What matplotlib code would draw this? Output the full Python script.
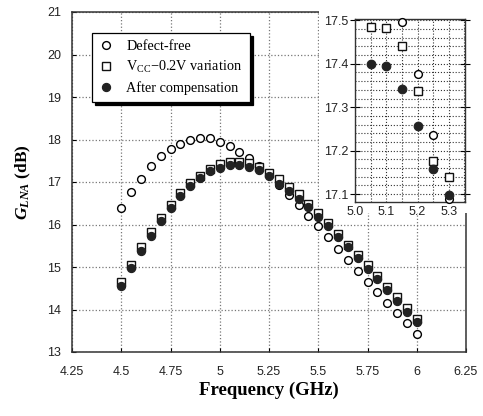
import matplotlib
matplotlib.use('Agg')
import matplotlib.pyplot as plt
from matplotlib.patches import Rectangle
from matplotlib.ticker import MultipleLocator

plt.rcParams['font.family'] = 'Liberation Sans'
plt.rcParams['mathtext.fontset'] = 'custom'
plt.rcParams['mathtext.rm'] = 'Liberation Serif'
plt.rcParams['mathtext.it'] = 'Liberation Serif:italic'
plt.rcParams['mathtext.bf'] = 'Liberation Serif:bold'
plt.rcParams['mathtext.bfit'] = 'Liberation Serif:italic:bold'

# LNA gain vs frequency
freq = [4.50, 4.55, 4.60, 4.65, 4.70, 4.75, 4.80, 4.85, 4.90, 4.95, 5.00,
        5.05, 5.10, 5.15, 5.20, 5.25, 5.30, 5.35, 5.40, 5.45, 5.50, 5.55,
        5.60, 5.65, 5.70, 5.75, 5.80, 5.85, 5.90, 5.95, 6.00]
defect_free = [16.40, 16.76, 17.07, 17.37, 17.60, 17.77, 17.90, 18.00, 18.04, 18.04, 17.94,
               17.84, 17.71, 17.57, 17.38, 17.17, 16.94, 16.69, 16.47, 16.20, 15.96, 15.70,
               15.42, 15.16, 14.91, 14.65, 14.42, 14.16, 13.91, 13.68, 13.42]
vcc_var = [14.64, 15.05, 15.46, 15.82, 16.15, 16.46, 16.74, 16.98, 17.15, 17.31, 17.43,
           17.48, 17.48, 17.45, 17.36, 17.22, 17.08, 16.89, 16.71, 16.48, 16.26, 16.03,
           15.78, 15.52, 15.29, 15.05, 14.80, 14.54, 14.29, 14.04, 13.78]
compensated = [14.55, 14.98, 15.38, 15.73, 16.08, 16.40, 16.67, 16.91, 17.09, 17.25, 17.34,
               17.39, 17.39, 17.36, 17.28, 17.14, 16.96, 16.79, 16.61, 16.41, 16.18, 15.96,
               15.71, 15.48, 15.21, 14.96, 14.71, 14.46, 14.21, 13.95, 13.71]

# zoomed view around the peak
zoom_freq = [5.05, 5.10, 5.15, 5.20, 5.25, 5.30]
zoom_defect_free = [None, None, 17.495, 17.377, 17.236, 17.089]
zoom_vcc_var = [17.484, 17.482, 17.441, 17.337, 17.177, 17.140]
zoom_compensated = [17.400, 17.395, 17.342, 17.256, 17.157, 17.097]

labels = ['Defect-free', r'V$_{\mathrm{CC}}$$-$0.2V variation', 'After compensation']

fig = plt.figure(figsize=(4.83, 4.16), dpi=100)
ax = fig.add_axes([72/483, 1-352/416, 394/483, 340/416])

ms = 5.6
h1, = ax.plot(freq, defect_free, 'o', ms=ms, mfc='white', mec='black', mew=1.0,
              zorder=4, label=labels[0])
h2, = ax.plot(freq, vcc_var, 's', ms=ms, mfc='white', mec='#111111', mew=1.0,
              zorder=4, label=labels[1])
h3, = ax.plot(freq, compensated, 'o', ms=ms + 0.3, mfc='#222222', mec='#222222', mew=0.8,
              zorder=4, label=labels[2])

ax.set_xlim(4.25, 6.25)
ax.set_ylim(13, 21)
ax.yaxis.set_major_locator(MultipleLocator(1))
ax.set_xticks([4.25, 4.5, 4.75, 5, 5.25, 5.5, 5.75, 6, 6.25])
ax.set_xticklabels(['4.25', '4.5', '4.75', '5', '5.25', '5.5', '5.75', '6', '6.25'])
ax.grid(True, linestyle=':', color='#777777', linewidth=0.9)
ax.set_axisbelow(True)
ax.tick_params(direction='in', length=3, labelsize=9, labelcolor='#222222', width=0.8)
ax.tick_params(axis='x', pad=10)
ax.tick_params(axis='y', pad=8)
for sp in ax.spines.values():
    sp.set_linewidth(1.1)
    sp.set_color('#333333')

ax.set_xlabel('Frequency (GHz)', family='Liberation Serif', fontsize=13.5,
              fontweight='bold', labelpad=3)
ax.set_ylabel(r'$\mathbfit{G}_{\mathbfit{LNA}}$ (dB)', family='Liberation Serif',
              fontsize=12.5, fontweight='bold', labelpad=10)

# white backdrop behind the inset
ax.add_patch(Rectangle((0.627, 0.408), 0.40, 0.65, transform=ax.transAxes,
                       facecolor='white', edgecolor='none', zorder=2.7, clip_on=False))

leg = ax.legend(handles=[h1, h2, h3], loc='upper left', bbox_to_anchor=(0.051, 0.938),
                borderaxespad=0, numpoints=1, fancybox=False, frameon=True,
                edgecolor='black', framealpha=1,
                shadow={'color': 'black', 'alpha': 1},
                prop={'family': 'Liberation Serif', 'size': 10.3},
                handlelength=1.0, handletextpad=0.9, labelspacing=0.4,
                borderpad=0.5)
leg.get_frame().set_linewidth(0.9)

# inset
ins = fig.add_axes([355/483, 1-202/416, 110/483, 183/416])
ins.plot(zoom_freq, [v if v is not None else float('nan') for v in zoom_defect_free],
         'o', ms=ms, mfc='white', mec='black', mew=1.0, zorder=4, clip_on=False)
ins.plot(zoom_freq, zoom_vcc_var, 's', ms=ms, mfc='white', mec='#111111', mew=1.0,
         zorder=4, clip_on=False)
ins.plot(zoom_freq, zoom_compensated, 'o', ms=ms + 0.6, mfc='#222222', mec='#222222',
         mew=0.8, zorder=5, clip_on=False)
ins.set_xlim(5.0, 5.352)
ins.set_ylim(17.082, 17.503)
ins.set_xticks([5.0, 5.1, 5.2, 5.3])
ins.set_xticklabels(['5.0', '5.1', '5.2', '5.3'])
ins.set_yticks([17.1, 17.2, 17.3, 17.4, 17.5])
ins.set_yticklabels(['17.1', '17.2', '17.3', '17.4', '17.5'])
ins.xaxis.set_minor_locator(MultipleLocator(0.05))
ins.yaxis.set_minor_locator(MultipleLocator(0.02))
ins.grid(True, which='both', linestyle=':', color='#333333', linewidth=0.8)
ins.set_axisbelow(True)
ins.tick_params(axis='x', which='both', length=0, labelsize=9, labelcolor='#222222', pad=3)
ins.tick_params(axis='y', which='major', direction='inout', length=7, right=True,
                labelsize=9, labelcolor='#222222', pad=1)
ins.tick_params(axis='y', which='minor', length=0)
for sp in ins.spines.values():
    sp.set_linewidth(1.0)
    sp.set_color('#333333')

fig.savefig('out.png', dpi=100)
